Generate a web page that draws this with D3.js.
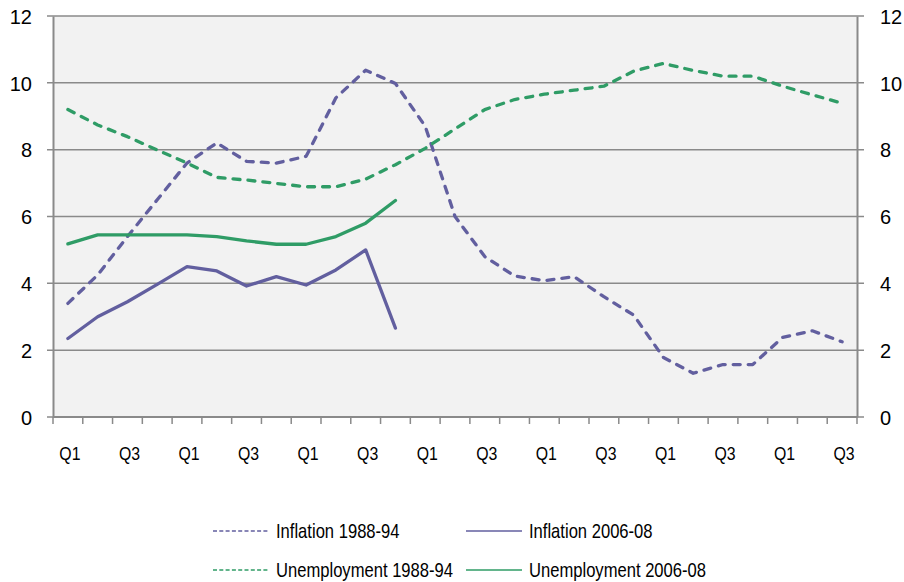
<!DOCTYPE html>
<html>
<head>
<meta charset="utf-8">
<script src="https://cdn.jsdelivr.net/npm/d3@7"></script>
<style>
  body { margin: 0; background: #fff; }
  svg text { font-family: "Liberation Sans", Arial, sans-serif; fill: #000; }
</style>
</head>
<body>
<div id="chart"></div>
<script>
// quarters 1988 Q1 .. 1994 Q3 (27 of them), labelled every second one
const quarters = d3.range(27).map(i => 'Q' + (i % 4 + 1) + '_' + i);

const inflation8894 = [3.4, 4.25, 5.4, 6.5, 7.6, 8.2, 7.65, 7.6, 7.8, 9.55, 10.38, 9.98, 8.7,
  6.0, 4.8, 4.22, 4.08, 4.2, 3.6, 3.05, 1.78, 1.31, 1.57, 1.57, 2.38, 2.58, 2.25];
const unemployment8894 = [9.2, 8.74, 8.39, 7.99, 7.6, 7.17, 7.09, 6.99, 6.89, 6.89, 7.12, 7.55, 8.04,
  8.62, 9.2, 9.5, 9.66, 9.78, 9.9, 10.35, 10.58, 10.37, 10.2, 10.2, 9.9, 9.64, 9.39];
const inflation0608 = [2.35, 3.0, 3.45, 3.97, 4.5, 4.37, 3.92, 4.2, 3.95, 4.4, 5.0, 2.66];
const unemployment0608 = [5.18, 5.45, 5.45, 5.45, 5.45, 5.4, 5.27, 5.17, 5.17, 5.4, 5.8, 6.48];

const yTicks = [0, 2, 4, 6, 8, 10, 12];

const series = [
  {name: 'Inflation 1988-94', values: inflation8894, color: '#625f9f', dashed: true},
  {name: 'Inflation 2006-08', values: inflation0608, color: '#625f9f', dashed: false},
  {name: 'Unemployment 1988-94', values: unemployment8894, color: '#2f9c66', dashed: true},
  {name: 'Unemployment 2006-08', values: unemployment0608, color: '#2f9c66', dashed: false}
];

const W = 904, H = 582;
const margin = {left: 53, right: 47, top: 16, bottom: 165};
const w = W - margin.left - margin.right;   // 804
const h = H - margin.top - margin.bottom;   // 401

const svg = d3.select('#chart').append('svg')
  .attr('width', W)
  .attr('height', H);

const g = svg.append('g').attr('transform', `translate(${margin.left}, ${margin.top})`);

const x = d3.scaleBand().domain(quarters).range([0, w]);
const y = d3.scaleLinear().domain([0, 12]).range([h, 0]);
const cx = i => x(quarters[i]) + x.bandwidth() / 2;

// plot background
g.append('rect')
  .attr('width', w).attr('height', h)
  .style('fill', '#f2f2f2');

// gridlines, sticking out a little as tick marks on both sides
g.append('g').selectAll('line.grid')
  .data(yTicks)
  .enter()
  .append('line')
  .attr('class', 'grid')
  .attr('x1', -6).attr('x2', w + 7)
  .attr('y1', d => y(d)).attr('y2', d => y(d))
  .style('stroke', '#8a8a8a')
  .style('stroke-width', 1.5);

// left and right axes
const yLeft = g.append('g')
  .call(d3.axisLeft(y).tickValues(yTicks).tickSize(0).tickPadding(21));
const yRight = g.append('g')
  .attr('transform', `translate(${w}, 0)`)
  .call(d3.axisRight(y).tickValues(yTicks).tickSize(0).tickPadding(23));
[yLeft, yRight].forEach(a => {
  a.select('.domain').style('stroke', '#8a8a8a').style('stroke-width', 2);
  a.selectAll('text').style('font-size', '20px').attr('dy', '0.36em');
});

// x axis: tick marks between categories, labels every second quarter
const xAxis = g.append('g').attr('transform', `translate(0, ${h})`);
xAxis.append('line')
  .attr('x1', 0).attr('x2', w)
  .style('stroke', '#8a8a8a').style('stroke-width', 2);
xAxis.selectAll('line.tick')
  .data(d3.range(quarters.length + 1))
  .enter()
  .append('line')
  .attr('class', 'tick')
  .attr('x1', i => i * x.step()).attr('x2', i => i * x.step())
  .attr('y1', 0).attr('y2', 7)
  .style('stroke', '#8a8a8a').style('stroke-width', 1.5);
xAxis.selectAll('text')
  .data(quarters.filter((q, i) => i % 2 === 0))
  .enter()
  .append('text')
  .attr('transform', q => `translate(${x(q) + x.bandwidth() / 2 + 2}, 43) scale(0.88, 1)`)
  .attr('text-anchor', 'middle')
  .style('font-size', '18px')
  .text(q => q.split('_')[0]);

// lines
const line = d3.line()
  .x((v, i) => cx(i))
  .y(v => y(v));

g.append('g').selectAll('path.series')
  .data(series)
  .enter()
  .append('path')
  .attr('class', 'series')
  .attr('d', s => line(s.values))
  .style('fill', 'none')
  .style('stroke', s => s.color)
  .style('stroke-width', 3.3)
  .style('stroke-linejoin', 'round')
  .style('stroke-linecap', 'round')
  .style('stroke-dasharray', s => s.dashed ? '7,8' : null);

// legend, two columns by two rows
const legend = svg.append('g');
const legendPos = [[213, 531], [466, 531], [213, 570], [466, 570]];
const items = legend.selectAll('g.item')
  .data(series)
  .enter()
  .append('g')
  .attr('class', 'item')
  .attr('transform', (s, i) => `translate(${legendPos[i][0]}, ${legendPos[i][1]})`);
items.append('line')
  .attr('x1', 0).attr('x2', 56)
  .style('stroke', s => s.color)
  .style('stroke-width', 1.6)
  .style('stroke-dasharray', s => s.dashed ? '4,2.3' : null);
// the original face is a narrow one, so squeeze the text horizontally
items.append('text')
  .attr('transform', 'translate(63, 0) scale(0.83, 1)')
  .attr('dy', '0.35em')
  .style('font-size', '20px')
  .text(s => s.name);
</script>
</body>
</html>
